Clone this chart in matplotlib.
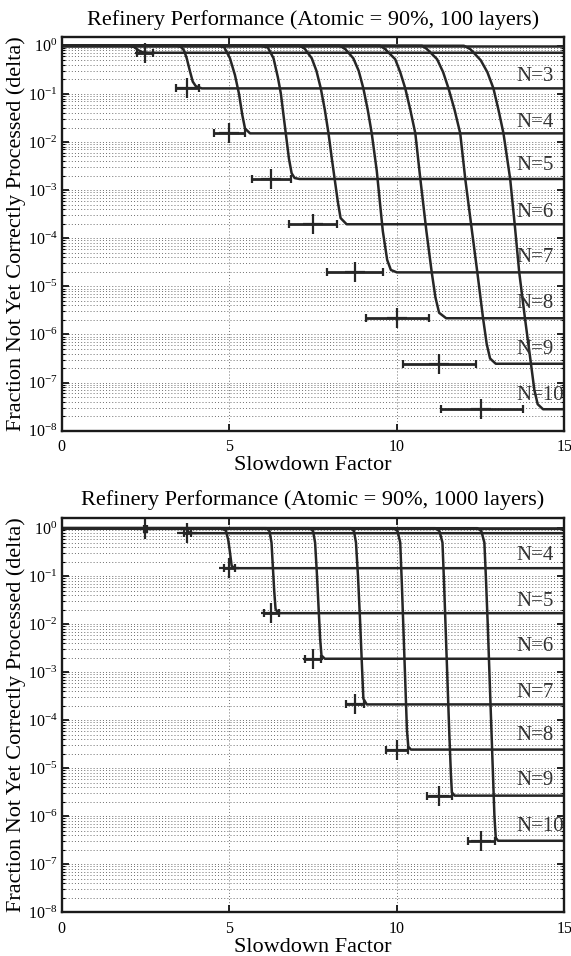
import numpy as np
import matplotlib.pyplot as plt

plt.rcParams['font.family'] = ['Liberation Serif', 'DejaVu Serif']
plt.rcParams['mathtext.fontset'] = 'stix'

# ---------------- top panel: 100 layers ----------------
top_x = [
    [0, 15],
    [0, 2.0, 2.15, 2.3, 2.42, 2.6, 15],
    [0, 3.45, 3.55, 3.65, 3.73, 3.83, 3.91, 4.0, 4.18, 15],
    [0, 4.7, 4.85, 5.02, 5.17, 5.29, 5.39, 5.47, 5.62, 15],
    [0, 5.95, 6.15, 6.32, 6.45, 6.54, 6.62, 6.7, 6.78, 6.86, 6.95, 7.1, 15],
    [0, 7.1, 7.25, 7.46, 7.6, 7.73, 7.85, 7.96, 8.06, 8.16, 8.24, 8.32, 8.5, 15],
    [0, 8.3, 8.46, 8.7, 8.86, 9.0, 9.13, 9.25, 9.4, 9.5, 9.58, 9.71, 9.82, 10.0, 15],
    [0, 9.5, 9.65, 9.95, 10.1, 10.25, 10.4, 10.55, 10.7, 10.88, 11.04, 11.15, 11.26, 11.47, 15],
    [0, 10.75, 10.9, 11.2, 11.38, 11.54, 11.72, 11.89, 12.04, 12.24, 12.4, 12.57, 12.68, 12.78, 12.95, 15],
    [0, 12.0, 12.19, 12.5, 12.7, 12.88, 13.03, 13.18, 13.38, 13.52, 13.65, 13.82, 14.0, 14.1, 14.2, 14.36, 15],
]
top_y = [
    [1, 1],
    [1, 1, 0.95, 0.8, 0.73, 0.715, 0.715],
    [1, 1, 0.96, 0.8, 0.55, 0.29, 0.18, 0.145, 0.13, 0.13],
    [1, 1, 0.93, 0.55, 0.245, 0.1, 0.036, 0.019, 0.0151, 0.0151],
    [1, 1, 0.92, 0.55, 0.22, 0.1, 0.035, 0.0126, 0.0045, 0.00224, 0.00178, 0.0017, 0.0017],
    [1, 1, 0.871, 0.55, 0.302, 0.13, 0.0468, 0.0151, 4.47e-3, 1.41e-3, 5.62e-4, 2.63e-4, 1.95e-4, 1.95e-4],
    [1, 1, 0.851, 0.55, 0.302, 0.13, 0.0468, 0.0151, 2.51e-3, 5.01e-4, 1.41e-4, 3.55e-5, 2.19e-5, 1.95e-5, 1.95e-5],
    [1, 1, 0.851, 0.525, 0.282, 0.13, 0.0468, 0.0151, 1.7e-3, 1.41e-4, 1.95e-5, 5.89e-6, 2.82e-6, 2.17e-6, 2.17e-6],
    [1, 1, 0.851, 0.525, 0.282, 0.13, 0.0468, 0.0151, 1.7e-3, 1.41e-4, 1.95e-5, 2.19e-6, 6.31e-7, 3.16e-7, 2.46e-7, 2.46e-7],
    [1, 1, 0.851, 0.501, 0.282, 0.13, 0.0468, 0.0151, 1.7e-3, 1.78e-4, 1.95e-5, 2.19e-6, 2.46e-7, 7.08e-8, 3.55e-8, 2.79e-8, 2.79e-8],
]
top_cross_x = [2.5, 3.75, 5.0, 6.25, 7.5, 8.75, 10.0, 11.25, 12.5]
top_cross_y = [0.715, 0.13, 0.0151, 0.0017, 1.95e-4, 1.95e-5, 2.17e-6, 2.46e-7, 2.79e-8]
top_cross_lo = [2.25, 3.42, 4.55, 5.67, 6.79, 7.93, 9.07, 10.18, 11.32]
top_cross_hi = [2.73, 4.1, 5.47, 6.84, 8.21, 9.6, 10.97, 12.35, 13.76]
top_labels = ['N=3', 'N=4', 'N=5', 'N=6', 'N=7', 'N=8', 'N=9', 'N=10']
top_label_y = [0.227, 0.026, 0.0033, 3.5e-4, 4.0e-5, 4.3e-6, 4.8e-7, 5.4e-8]

# ---------------- bottom panel: 1000 layers ----------------
bot_x = [
    [0, 15],
    [0, 2.4, 2.5, 15],
    [0, 3.62, 3.72, 3.8, 3.9, 15],
    [0, 4.75, 4.9, 4.97, 5.02, 5.07, 5.15, 15],
    [0, 6.1, 6.2, 6.26, 6.3, 6.34, 6.38, 6.46, 15],
    [0, 7.4, 7.5, 7.56, 7.61, 7.66, 7.71, 7.75, 7.85, 15],
    [0, 8.62, 8.72, 8.78, 8.84, 8.9, 8.96, 9.0, 9.1, 15],
    [0, 9.9, 10.02, 10.1, 10.15, 10.2, 10.25, 10.3, 10.34, 10.42, 15],
    [0, 11.15, 11.27, 11.36, 11.41, 11.46, 11.51, 11.56, 11.61, 11.64, 11.72, 15],
    [0, 12.4, 12.52, 12.61, 12.66, 12.71, 12.76, 12.81, 12.86, 12.91, 12.95, 13.02, 15],
]
bot_y = [
    [1, 1],
    [1, 1, 0.97, 0.97],
    [1, 1, 0.95, 0.82, 0.787, 0.787],
    [1, 1, 0.891, 0.562, 0.316, 0.166, 0.147, 0.147],
    [1, 1, 0.871, 0.501, 0.158, 0.0501, 0.0209, 0.017, 0.017],
    [1, 1, 0.871, 0.501, 0.126, 0.0251, 5.01e-3, 2.24e-3, 1.91e-3, 1.91e-3],
    [1, 1, 0.871, 0.501, 0.1, 0.0126, 1.26e-3, 2.82e-4, 2.14e-4, 2.14e-4],
    [1, 1, 0.871, 0.501, 0.0631, 6.31e-3, 6.31e-4, 6.31e-5, 2.82e-5, 2.45e-5, 2.45e-5],
    [1, 1, 0.871, 0.501, 0.0631, 6.31e-3, 6.31e-4, 6.31e-5, 7.94e-6, 3.16e-6, 2.69e-6, 2.69e-6],
    [1, 1, 0.871, 0.501, 0.0794, 0.01, 1e-3, 1e-4, 1e-5, 1e-6, 3.55e-7, 3.09e-7, 3.09e-7],
]
bot_cross_x = [2.5, 3.75, 5.0, 6.25, 7.5, 8.75, 10.0, 11.25, 12.5]
bot_cross_y = [0.97, 0.787, 0.147, 0.017, 1.91e-3, 2.14e-4, 2.45e-5, 2.69e-6, 3.09e-7]
bot_cross_lo = [2.45, 3.66, 4.85, 6.04, 7.27, 8.47, 9.69, 10.91, 12.11]
bot_cross_hi = [2.55, 3.86, 5.17, 6.48, 7.73, 9.03, 10.34, 11.64, 12.93]
bot_labels = ['N=4', 'N=5', 'N=6', 'N=7', 'N=8', 'N=9', 'N=10']
bot_label_y = [0.265, 0.0297, 3.45e-3, 3.8e-4, 4.9e-5, 5.6e-6, 6.2e-7]

ink = '#262626'
gridc = '#6e6e6e'


def draw_panel(ax, xs, ys, cx, cy, clo, chi, labels, label_y, title, ytop):
    for x, y in zip(xs, ys):
        ax.plot(x, y, color=ink, lw=1.8, solid_joinstyle='round')
    cx = np.array(cx)
    xerr = [cx - np.array(clo), np.array(chi) - cx]
    ax.errorbar(cx, cy, xerr=xerr, fmt='+', color=ink, ms=14, mew=1.6,
                elinewidth=2.0, capsize=3, capthick=1.6)
    for lab, ly in zip(labels, label_y):
        ax.text(13.55, ly, lab, fontsize=15, color='#333333', ha='left',
                va='center', clip_on=True)
    ax.set_yscale('log')
    ax.set_xlim(0, 15)
    ax.set_ylim(1e-8, ytop)
    ax.set_xticks([0, 5, 10, 15])
    ax.set_xticklabels(['0', '5', '10', '15'])
    ax.set_yticks(10.0 ** np.arange(-8, 1))
    ax.yaxis.set_minor_locator(plt.matplotlib.ticker.LogLocator(base=10, subs=(2, 3, 4, 5, 6, 7, 8, 9), numticks=20))
    ax.yaxis.set_minor_formatter(plt.NullFormatter())
    ax.grid(True, which='major', axis='both', color=gridc, lw=0.7, ls=(0, (1, 2.2)))
    ax.grid(True, which='minor', axis='y', color=gridc, lw=0.7, ls=(0, (1, 2.2)))
    ax.set_axisbelow(True)
    ax.tick_params(which='major', direction='in', length=5, width=1.2, top=True, right=True,
                   labelsize=11.5, pad=3)
    ax.tick_params(axis='x', which='major', pad=6)
    ax.tick_params(which='minor', direction='in', length=2.5, width=0.8, left=True, right=True)
    for s in ax.spines.values():
        s.set_linewidth(1.7)
        s.set_color('#1a1a1a')
    ax.set_title(title, fontsize=16, pad=9)
    ax.set_xlabel('Slowdown Factor', fontsize=16, labelpad=1)
    ax.set_ylabel('Fraction Not Yet Correctly Processed (delta)', fontsize=16, labelpad=1)


fig = plt.figure(figsize=(5.71, 9.56), dpi=100)
ax1 = fig.add_axes([0.108, 0.5495, 0.8806, 0.4115])
ax2 = fig.add_axes([0.108, 0.0457, 0.8806, 0.4127])

draw_panel(ax1, top_x, top_y, top_cross_x, top_cross_y, top_cross_lo, top_cross_hi,
           top_labels, top_label_y, 'Refinery Performance (Atomic = 90%, 100 layers)', 1.5)
draw_panel(ax2, bot_x, bot_y, bot_cross_x, bot_cross_y, bot_cross_lo, bot_cross_hi,
           bot_labels, bot_label_y, 'Refinery Performance (Atomic = 90%, 1000 layers)', 1.65)

fig.savefig('out.png', dpi=100)
